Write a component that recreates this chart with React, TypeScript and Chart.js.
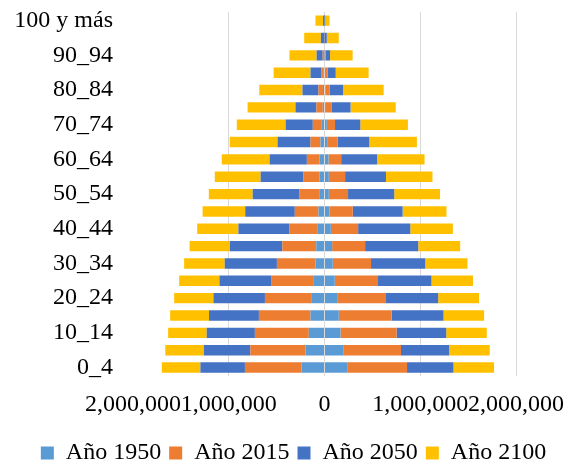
import React, { useEffect, useRef } from "react";
import { Chart, registerables } from "chart.js";

Chart.register(...registerables);

// Age groups, bottom to top
const ageGroups = [
  "0_4", "5_9", "10_14", "15_19", "20_24", "25_29", "30_34", "35_39", "40_44", "45_49",
  "50_54", "55_59", "60_64", "65_69", "70_74", "75_79", "80_84", "85_89", "90_94", "95_99", "100 y más",
];

const seriesNames = ["Año 1950", "Año 2015", "Año 2050", "Año 2100"];
const seriesColors = ["#5B9BD5", "#ED7D31", "#4472C4", "#FFC000"];

// Left side (plotted as negative), thousands of people
const left1950 = [240, 198, 164, 146, 132, 111, 94, 86, 76, 63, 55, 52, 52, 42, 28, 18, 16, 7, 3, 1, 0.2];
const left2015 = [591, 576, 563, 539, 490, 441, 403, 354, 289, 247, 205, 167, 132, 104, 94, 66, 47, 28, 16, 3, 1];
const left2050 = [465, 486, 503, 521, 538, 545, 545, 548, 534, 518, 490, 448, 389, 344, 284, 219, 167, 111, 63, 34, 14];
const left2100 = [403, 403, 403, 406, 410, 421, 424, 421, 431, 445, 458, 479, 500, 500, 510, 500, 451, 385, 284, 174, 79];

// Right side (positive), thousands of people
const right1950 = [243, 201, 167, 149, 132, 107, 86, 80, 66, 52, 45, 45, 42, 34, 24, 14, 10, 5, 3, 1, 0.2];
const right2015 = [619, 598, 586, 552, 503, 452, 400, 344, 285, 243, 201, 170, 132, 104, 86, 63, 45, 26, 10, 2, 1];
const right2050 = [485, 503, 518, 542, 552, 558, 566, 555, 545, 521, 482, 427, 375, 330, 264, 195, 139, 86, 45, 21, 7];
const right2100 = [424, 424, 424, 424, 427, 434, 441, 438, 445, 458, 479, 486, 496, 497, 497, 472, 424, 344, 236, 125, 44];

const xTicks = [-2000000, -1000000, 0, 1000000, 2000000];

const FONT = '"Liberation Serif", "Times New Roman", serif';

export default function App() {
  const ref = useRef<HTMLCanvasElement>(null);

  useEffect(() => {
    if (!ref.current) return;
    const leftSets = [left1950, left2015, left2050, left2100];
    const rightSets = [right1950, right2015, right2050, right2100];
    const datasets: any[] = [];
    leftSets.forEach((arr, i) => {
      datasets.push({
        label: seriesNames[i],
        data: arr.map((v) => -v * 1000),
        backgroundColor: seriesColors[i],
        borderWidth: 0,
        stack: "p",
        barPercentage: 0.6,
        categoryPercentage: 1,
      });
    });
    rightSets.forEach((arr, i) => {
      datasets.push({
        label: seriesNames[i] + " ",
        data: arr.map((v) => v * 1000),
        backgroundColor: seriesColors[i],
        borderWidth: 0,
        stack: "p",
        barPercentage: 0.6,
        categoryPercentage: 1,
      });
    });

    const chart = new Chart(ref.current, {
      type: "bar",
      data: { labels: ageGroups, datasets },
      options: {
        indexAxis: "y",
        animation: false,
        responsive: true,
        maintainAspectRatio: false,
        layout: { padding: { left: 14, top: 12, right: 0, bottom: -9 } },
        plugins: {
          tooltip: { enabled: false },
          legend: {
            position: "bottom",
            labels: {
              filter: (item: any) => item.datasetIndex < 4,
              boxWidth: 13,
              boxHeight: 13,
              padding: 8,
              color: "#000",
              font: { family: FONT, size: 24 },
            },
          },
        },
        scales: {
          x: {
            type: "linear",
            stacked: true,
            min: xTicks[0],
            max: xTicks[xTicks.length - 1],
            afterBuildTicks: (scale: any) => {
              scale.ticks = xTicks.map((v) => ({ value: v }));
            },
            afterFit: (scale: any) => {
              scale.paddingLeft = 0;
              scale.paddingRight = 57;
            },
            border: { display: false },
            grid: {
              drawTicks: false,
              color: (ctx: any) =>
                ctx.tick && ctx.tick.value === xTicks[0] ? "rgba(0,0,0,0)" : "#D9D9D9",
              lineWidth: 1,
            },
            ticks: {
              autoSkip: false,
              maxRotation: 0,
              padding: 14,
              color: "#000",
              font: { family: FONT, size: 24 },
              callback: (v: any) => Math.abs(Number(v)).toLocaleString("en-US"),
            },
          },
          y: {
            type: "category",
            stacked: true,
            reverse: true,
            afterFit: (scale: any) => {
              scale.width = 119;
              scale.paddingTop = 0;
              scale.paddingBottom = 0;
            },
            border: { display: false },
            grid: { display: false, drawTicks: false },
            ticks: {
              autoSkip: false,
              padding: 20,
              color: "#000",
              font: { family: FONT, size: 24 },
              callback: function (this: any, v: any, i: number) {
                return i % 2 === 0 ? this.getLabelForValue(v) : "";
              },
            },
          },
        },
      },
    });
    return () => chart.destroy();
  }, []);

  return (
    <div style={{ position: "fixed", left: 0, top: 0, width: 573, height: 466, background: "#fff" }}>
      <canvas ref={ref} />
    </div>
  );
}
